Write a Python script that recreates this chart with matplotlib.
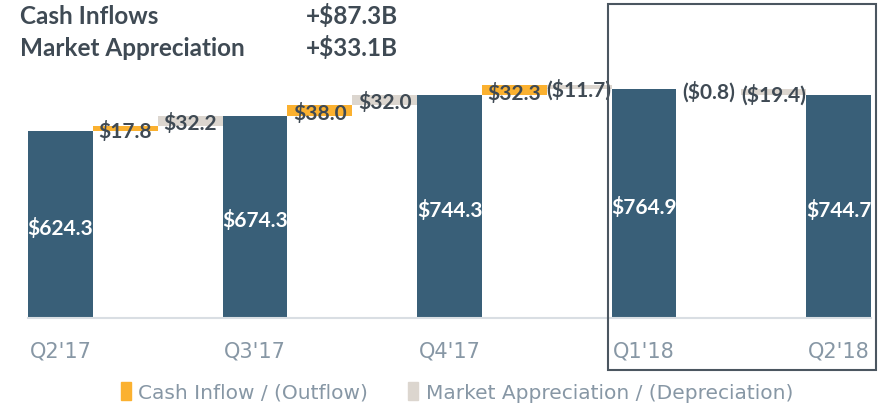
import matplotlib
matplotlib.use("Agg")
import matplotlib.pyplot as plt
from matplotlib.patches import Patch, Rectangle

# values in $B
quarters = ["Q2'17", "Q3'17", "Q4'17", "Q1'18", "Q2'18"]
aum = [624.3, 674.3, 744.3, 764.9, 744.7]
cash_flow = [17.8, 38.0, 32.3, -0.8]
market = [32.2, 32.0, -11.7, -19.4]
headline_labels = ["Cash Inflows", "Market Appreciation"]
headline_values = ["+$87.3B", "+$33.1B"]
legend_labels = ["Cash Inflow / (Outflow)", "Market Appreciation / (Depreciation)"]

BLUE = "#395f78"
ORANGE = "#fbb130"
GREY = "#dcd6cf"
DARK = "#3f4a54"
LIGHT = "#8797a5"

bold_font = ["Lato", "DejaVu Sans"]
plain_font = ["DejaVu Sans"]


def money(v):
    if v < 0:
        return "(${:.1f})".format(-v)
    return "${:.1f}".format(v)


fig = plt.figure(figsize=(8.85, 4.06), dpi=100)
ax = fig.add_axes([28 / 885, 87 / 406, 843 / 885, 269.5 / 406])

qx = [3 * i for i in range(len(quarters))]
ax.bar(qx, aum, width=1.0, color=BLUE, linewidth=0)
for x, v in zip(qx, aum):
    ax.annotate(money(v), (x, v / 2), xytext=(0, -2), textcoords="offset points",
                ha="center", va="center", color="white",
                fontsize=15, fontweight="bold", family=bold_font)

for i in range(len(cash_flow)):
    cx = 3 * i + 1
    mx = 3 * i + 2
    base = aum[i]
    ax.bar(cx, cash_flow[i], bottom=base, width=1.0, color=ORANGE, linewidth=0)
    ax.bar(mx, market[i], bottom=base + cash_flow[i], width=1.0, color=GREY, linewidth=0)
    ax.annotate(money(cash_flow[i]), (cx, base + cash_flow[i] / 2),
                xytext=(0, -1.5), textcoords="offset points",
                ha="center", va="center", color=DARK, fontsize=15,
                fontweight="bold", family=bold_font)
    ax.annotate(money(market[i]), (mx, base + cash_flow[i] + market[i] / 2),
                xytext=(0, -1.5), textcoords="offset points",
                ha="center", va="center", color=DARK, fontsize=15,
                fontweight="bold", family=bold_font)

ax.set_xlim(-0.5, 12.5)
ax.set_ylim(0, 900)
for s in ["left", "right", "top"]:
    ax.spines[s].set_visible(False)
ax.spines["bottom"].set_color("#d9dee3")
ax.spines["bottom"].set_linewidth(1.5)
ax.set_yticks([])
ax.set_xticks(qx)
ax.set_xticklabels(quarters, color=LIGHT, fontsize=15, family=plain_font)
ax.tick_params(axis="x", length=0, pad=16)

# headline totals
for k, (lab, val) in enumerate(zip(headline_labels, headline_values)):
    y = 1 - (16 + 32 * k) / 406
    fig.text(20 / 885, y, lab, ha="left", va="center", color=DARK,
             fontsize=17.5, fontweight="bold", family=bold_font)
    fig.text(306 / 885, y, val, ha="left", va="center", color=DARK,
             fontsize=17.5, fontweight="bold", family=bold_font)

# box around the latest two quarters
fig.patches.append(Rectangle((608 / 885, 1 - 371 / 406), 268 / 885, 366 / 406,
                             transform=fig.transFigure, fill=False,
                             edgecolor="#4b5660", linewidth=1.5))

handles = [Patch(color=ORANGE), Patch(color=GREY)]
leg = fig.legend(handles, legend_labels, loc="center", ncol=2,
                 bbox_to_anchor=(457 / 885, 1 - 393 / 406), frameon=False,
                 handlelength=0.5, handleheight=1.0, handletextpad=0.35,
                 columnspacing=2.0, prop={"family": plain_font, "size": 14.5})
for t in leg.get_texts():
    t.set_color(LIGHT)

fig.savefig("out.png", dpi=100)
